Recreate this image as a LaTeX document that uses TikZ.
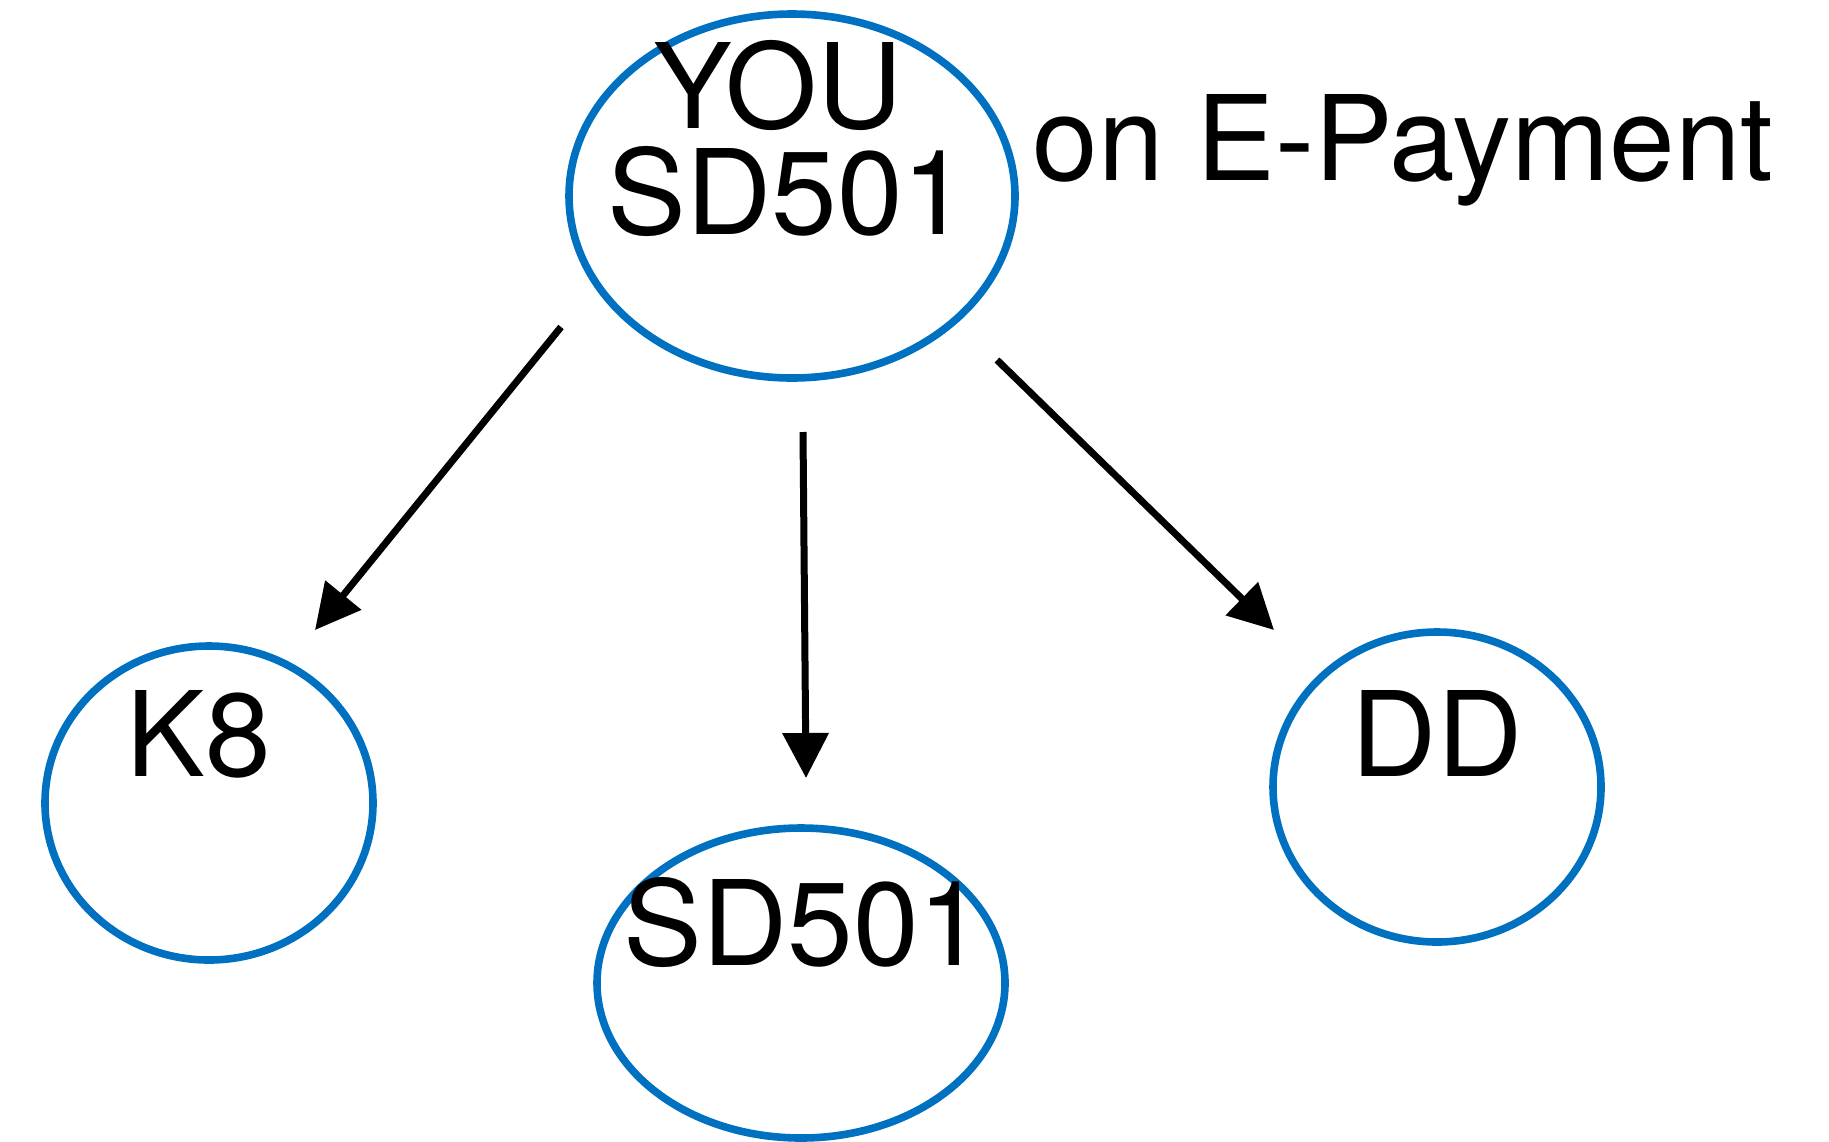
\documentclass[tikz,border=0pt]{standalone}
\usepackage{fontspec}
\setmainfont{TeX Gyre Heros}
\usetikzlibrary{shapes.geometric,arrows.meta}
\definecolor{nodeblue}{HTML}{0070C0}
\begin{document}
\begin{tikzpicture}[x=0.5pt,y=-0.5pt,
  oval/.style={draw=nodeblue,line width=3.8pt,ellipse,inner sep=0pt},
  lbl/.style={anchor=base,inner sep=0pt,font=\fontsize{59pt}{59pt}\selectfont},
  conn/.style={line width=3.5pt,-{Triangle[length=22.5pt,width=22.5pt]}}]
\useasboundingbox (0,0) rectangle (1829,1141);
% ellipses
\node[oval,minimum width=223pt,minimum height=182pt] (top) at (792,196) {};
\node[oval,minimum width=164pt,minimum height=157pt] (k8) at (209,803) {};
\node[oval,minimum width=204pt,minimum height=155pt] (sd) at (801,983) {};
\node[oval,minimum width=164pt,minimum height=155pt] (dd) at (1437,787) {};
% labels
\node[lbl] (you) at (778,128) {YOU};
\node[lbl] (topsd) at (788,234) {SD501};
\node[lbl,anchor=base west] (epay) at (1032,180) {on E-Payment};
\node[lbl] (k8t) at (199,776) {K8};
\node[lbl] (ddt) at (1437,776) {DD};
\node[lbl] (sdt) at (804,965) {SD501};
% connector endpoints
\coordinate (a1) at (561,327);
\coordinate (a1e) at (315,630);
\coordinate (a2) at (803,432);
\coordinate (a2e) at (806,778);
\coordinate (a3) at (997,360);
\coordinate (a3e) at (1274,630);
\draw[conn] (a1) -- (a1e);
\draw[conn] (a2) -- (a2e);
\draw[conn] (a3) -- (a3e);
\end{tikzpicture}
\end{document}
